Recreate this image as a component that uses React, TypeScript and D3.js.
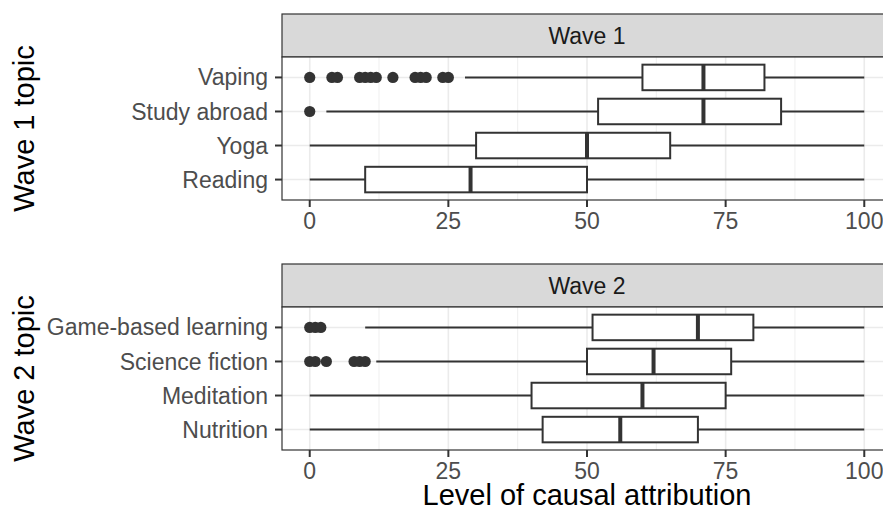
import React from "react";
import * as d3 from "d3";

const wave1Topics = ["Vaping", "Study abroad", "Yoga", "Reading"];
const wave1Lower = [28, 3, 0, 0];
const wave1Q1 = [60, 52, 30, 10];
const wave1Median = [71, 71, 50, 29];
const wave1Q3 = [82, 85, 65, 50];
const wave1Upper = [100, 100, 100, 100];
const wave1Outliers = [
  [0, 4, 5, 9, 10, 11, 12, 15, 19, 20, 21, 24, 25],
  [0],
  [],
  [],
];

const wave2Topics = ["Game-based learning", "Science fiction", "Meditation", "Nutrition"];
const wave2Lower = [10, 12, 0, 0];
const wave2Q1 = [51, 50, 40, 42];
const wave2Median = [70, 62, 60, 56];
const wave2Q3 = [80, 76, 75, 70];
const wave2Upper = [100, 100, 100, 100];
const wave2Outliers = [
  [0, 1, 2],
  [0, 1, 3, 8, 9, 10],
  [],
  [],
];

const xTicks = [0, 25, 50, 75, 100];
const xMinor = [12.5, 37.5, 62.5, 87.5];

const W = 883;
const H = 514;
const panelLeft = 282;
const panelRight = 892;
const FONT = "'Liberation Sans', Arial, Helvetica, sans-serif";
const SMALL = 23;
const BIG = 29;

const x = d3.scaleLinear().domain([-5, 105]).range([panelLeft, panelRight]);

type PanelProps = {
  title: string;
  axisTitle: string;
  stripTop: number;
  panelTop: number;
  panelBottom: number;
  topics: string[];
  lower: number[];
  q1: number[];
  median: number[];
  q3: number[];
  upper: number[];
  outliers: number[][];
};

function Panel(p: PanelProps) {
  const y = d3
    .scalePoint<string>()
    .domain(p.topics)
    .range([p.panelTop, p.panelBottom])
    .padding(0.6);
  const step = y.step();
  const bh = step * 0.75;
  const dark = "#333333";
  const stripMid = (p.stripTop + p.panelTop) / 2;
  const panelMid = (p.panelTop + p.panelBottom) / 2;
  return (
    <g>
      <rect
        x={panelLeft}
        y={p.stripTop}
        width={panelRight - panelLeft}
        height={p.panelTop - p.stripTop}
        fill="#D9D9D9"
        stroke={dark}
        strokeWidth={1.2}
      />
      <text
        x={(panelLeft + panelRight) / 2}
        y={stripMid}
        dy="0.35em"
        textAnchor="middle"
        fontSize={SMALL}
        fill="#1A1A1A"
        fontFamily={FONT}
      >
        {p.title}
      </text>
      <rect
        x={panelLeft}
        y={p.panelTop}
        width={panelRight - panelLeft}
        height={p.panelBottom - p.panelTop}
        fill="white"
      />
      {xMinor.map((v) => (
        <line
          key={"mn" + v}
          x1={x(v)}
          x2={x(v)}
          y1={p.panelTop}
          y2={p.panelBottom}
          stroke="#EBEBEB"
          strokeWidth={0.8}
        />
      ))}
      {xTicks.map((v) => (
        <line
          key={"mj" + v}
          x1={x(v)}
          x2={x(v)}
          y1={p.panelTop}
          y2={p.panelBottom}
          stroke="#EBEBEB"
          strokeWidth={1.6}
        />
      ))}
      {p.topics.map((t) => (
        <line
          key={"hg" + t}
          x1={panelLeft}
          x2={panelRight}
          y1={y(t)}
          y2={y(t)}
          stroke="#EBEBEB"
          strokeWidth={1.6}
        />
      ))}
      {p.topics.map((t, i) => {
        const cy = y(t) as number;
        return (
          <g key={"bx" + t}>
            <line x1={x(p.lower[i])} x2={x(p.q1[i])} y1={cy} y2={cy} stroke={dark} strokeWidth={2} />
            <line x1={x(p.q3[i])} x2={x(p.upper[i])} y1={cy} y2={cy} stroke={dark} strokeWidth={2} />
            <rect
              x={x(p.q1[i])}
              y={cy - bh / 2}
              width={x(p.q3[i]) - x(p.q1[i])}
              height={bh}
              fill="white"
              stroke={dark}
              strokeWidth={2}
            />
            <line
              x1={x(p.median[i])}
              x2={x(p.median[i])}
              y1={cy - bh / 2}
              y2={cy + bh / 2}
              stroke={dark}
              strokeWidth={4}
            />
            {p.outliers[i].map((o, j) => (
              <circle key={j} cx={x(o)} cy={cy} r={5.6} fill={dark} />
            ))}
          </g>
        );
      })}
      <rect
        x={panelLeft}
        y={p.panelTop}
        width={panelRight - panelLeft}
        height={p.panelBottom - p.panelTop}
        fill="none"
        stroke={dark}
        strokeWidth={1.2}
      />
      {p.topics.map((t) => (
        <g key={"yl" + t}>
          <line x1={panelLeft - 7} x2={panelLeft} y1={y(t)} y2={y(t)} stroke={dark} strokeWidth={2} />
          <text
            x={panelLeft - 14}
            y={y(t)}
            dy="0.35em"
            textAnchor="end"
            fontSize={SMALL}
            fill="#4D4D4D"
            fontFamily={FONT}
          >
            {t}
          </text>
        </g>
      ))}
      {xTicks.map((v) => (
        <g key={"xt" + v}>
          <line
            x1={x(v)}
            x2={x(v)}
            y1={p.panelBottom}
            y2={p.panelBottom + 7}
            stroke={dark}
            strokeWidth={2}
          />
          <text
            x={x(v)}
            y={p.panelBottom + 29}
            textAnchor="middle"
            fontSize={SMALL}
            fill="#4D4D4D"
            fontFamily={FONT}
          >
            {v}
          </text>
        </g>
      ))}
      <text
        transform={`translate(34,${panelMid}) rotate(-90)`}
        textAnchor="middle"
        fontSize={BIG}
        fill="black"
        fontFamily={FONT}
      >
        {p.axisTitle}
      </text>
    </g>
  );
}

export default function App() {
  return (
    <svg
      width={W}
      height={H}
      style={{ position: "absolute", left: 0, top: 0, display: "block", background: "white" }}
    >
      <rect x={0} y={0} width={W} height={H} fill="white" />
      <Panel
        title="Wave 1"
        axisTitle="Wave 1 topic"
        stripTop={14}
        panelTop={57}
        panelBottom={200}
        topics={wave1Topics}
        lower={wave1Lower}
        q1={wave1Q1}
        median={wave1Median}
        q3={wave1Q3}
        upper={wave1Upper}
        outliers={wave1Outliers}
      />
      <Panel
        title="Wave 2"
        axisTitle="Wave 2 topic"
        stripTop={264}
        panelTop={307}
        panelBottom={450}
        topics={wave2Topics}
        lower={wave2Lower}
        q1={wave2Q1}
        median={wave2Median}
        q3={wave2Q3}
        upper={wave2Upper}
        outliers={wave2Outliers}
      />
      <text
        x={(panelLeft + panelRight) / 2}
        y={505}
        textAnchor="middle"
        fontSize={BIG}
        fill="black"
        fontFamily={FONT}
      >
        Level of causal attribution
      </text>
    </svg>
  );
}
